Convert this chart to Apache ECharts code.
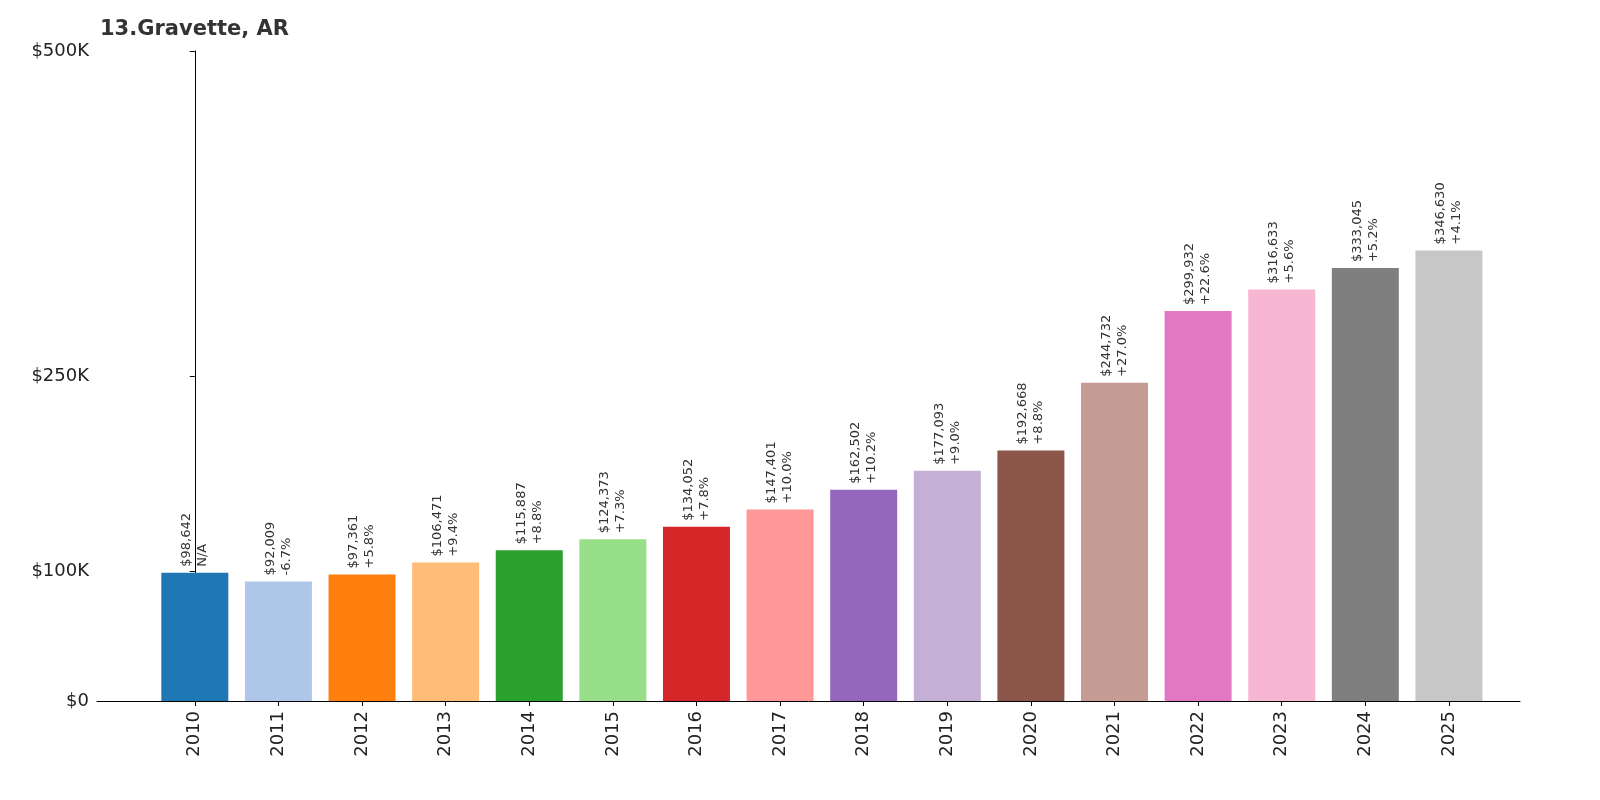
<!DOCTYPE html>
<html><head><meta charset="utf-8">
<script src="https://cdn.jsdelivr.net/npm/echarts@6/dist/echarts.min.js"></script>
<style>html,body{margin:0;padding:0;background:#fff}#c{width:1600px;height:800px}</style>
</head><body><div id="c"></div>
<script>
const years = ['2010','2011','2012','2013','2014','2015','2016','2017','2018','2019','2020','2021','2022','2023','2024','2025'];
const values = [98642,92009,97361,106471,115887,124373,134052,147401,162502,177093,192668,244732,299932,316633,333045,346630];
const changes = ['N/A','-6.7%','+5.8%','+9.4%','+8.8%','+7.3%','+7.8%','+10.0%','+10.2%','+9.0%','+8.8%','+27.0%','+22.6%','+5.6%','+5.2%','+4.1%'];
const colors = ['#1f77b4','#aec7e8','#ff7f0e','#ffbb78','#2ca02c','#98df8a','#d62728','#ff9896','#9467bd','#c5b0d5','#8c564b','#c49c94','#e377c2','#f7b6d2','#7f7f7f','#c7c7c7'];
const yTicks = [0,100000,250000,500000];
const yTickLabels = ['$0','$100K','$250K','$500K'];
const xIdx = years.map((y,i)=>i);

const chart = echarts.init(document.getElementById('c'));
chart.setOption({
  animation:false,
  title:{text:'13.Gravette, AR',left:95,top:14,textStyle:{fontFamily:'DejaVu Sans',fontSize:21,fontWeight:'bold',color:'#333'}},
  grid:{left:97,right:80,top:51,bottom:99},
  xAxis:{type:'value',min:-1.17,max:15.85,splitLine:{show:false},
    axisLine:{lineStyle:{color:'#000'}},
    axisTick:{show:true,customValues:xIdx,lineStyle:{color:'#000'}},
    axisLabel:{customValues:xIdx,rotate:90,fontSize:18,color:'#222',fontFamily:'DejaVu Sans',margin:10,
      formatter:v=>years[Math.round(v)]}},
  yAxis:{type:'value',min:0,max:500000,splitLine:{show:false},
    axisLine:{show:true,lineStyle:{color:'#000'}},
    axisTick:{show:true,customValues:yTicks,lineStyle:{color:'#000'}},
    axisLabel:{customValues:yTicks,fontSize:18,color:'#222',fontFamily:'DejaVu Sans',
      formatter:v=>yTickLabels[yTicks.indexOf(v)]}},
  series:[{type:'bar',barWidth:67,
    data:values.map((v,i)=>({value:[i,v],itemStyle:{color:colors[i]}})),
    label:{show:true,position:'top',rotate:90,align:'left',verticalAlign:'middle',distance:6,
      fontSize:13,color:'#333',fontFamily:'DejaVu Sans',lineHeight:16,
      formatter:p=>'$'+p.value[1].toLocaleString('en-US')+'\n'+changes[p.dataIndex]}}]
});
</script></body></html>
